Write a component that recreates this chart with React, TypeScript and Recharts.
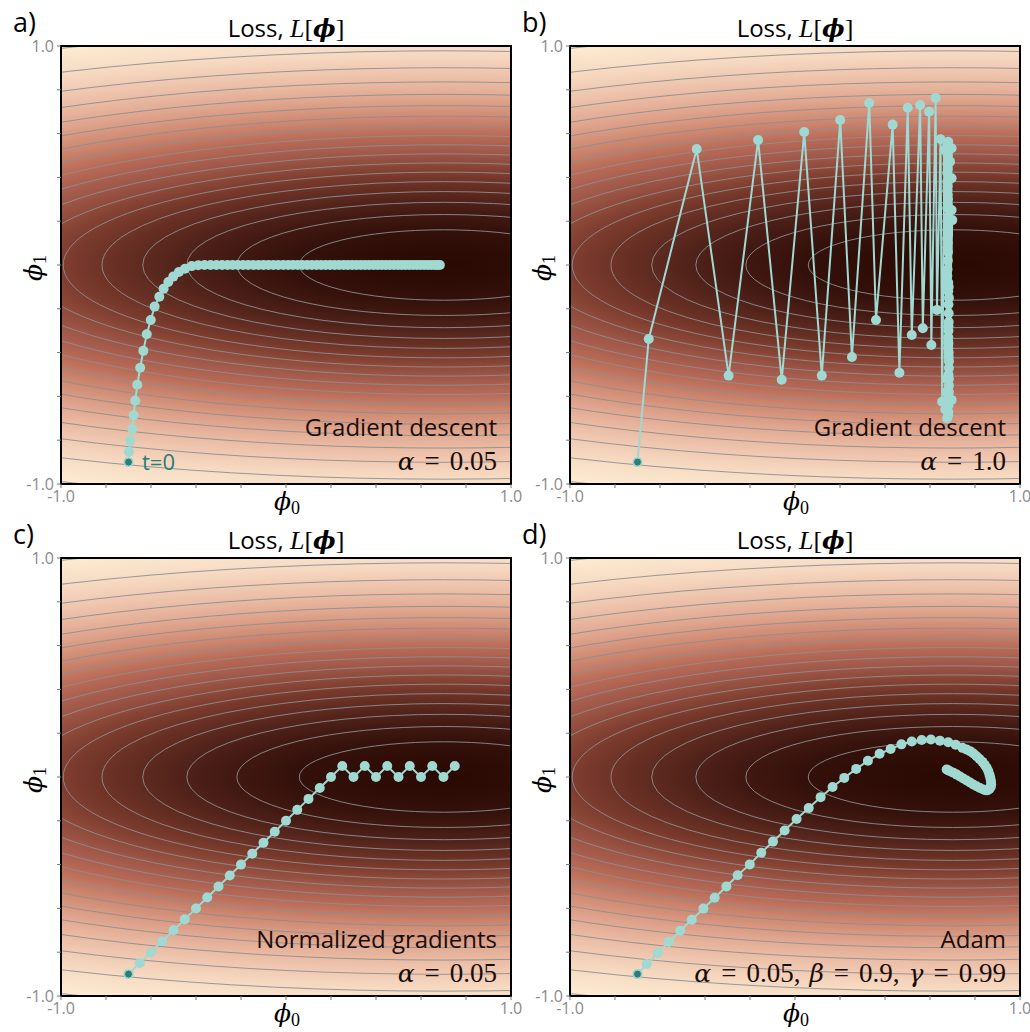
// Four optimisation paths over the same loss surface L[phi] (2x2 grid).
import React from "react";
import { ScatterChart, Scatter, XAxis, YAxis, ReferenceArea } from "recharts";

const TICKS = [-1, -0.8, -0.6, -0.4, -0.2, 0, 0.2, 0.4, 0.6, 0.8, 1];

// loss surface: elliptical basin, contour lines every 0.05
const CONTOUR_LEVELS = [0.05, 0.1, 0.15, 0.2, 0.25, 0.3, 0.35, 0.4, 0.45, 0.5, 0.55, 0.6, 0.65, 0.7, 0.75, 0.8, 0.85, 0.9];
const BASIN_PHI0 = 0.7;
const BASIN_PHI1 = 0;
const SPREAD_PHI0 = 2.83;
const SPREAD_PHI1 = 0.71;
const LOSS_OUTER = 0.93;
const CMAP_LOSS = [0, 0.05, 0.1, 0.15, 0.2, 0.25, 0.3, 0.35, 0.4, 0.45, 0.5, 0.55, 0.6, 0.65, 0.7, 0.75, 0.8, 0.85, 0.9, 0.93];
const CMAP_COLOR = [
  "#2a0902", "#33100a", "#401811", "#4e2119", "#5e2a20", "#6e3327", "#7e3d2f", "#8e4a3b", "#9d5647", "#ab6050",
  "#b86a56", "#c47a64", "#cf8a73", "#d99a83", "#e2ab94", "#eabba4", "#f1cbb4", "#f7dcc4", "#fcebd2", "#fff4dc",
];

// a) gradient descent, alpha = 0.05
const GD_PHI0 = [
  -0.700, -0.698, -0.692, -0.683, -0.677, -0.670, -0.661, -0.648, -0.634, -0.619,
  -0.601, -0.584, -0.563, -0.544, -0.523, -0.501, -0.476, -0.449, -0.419, -0.390,
  -0.362, -0.335, -0.309, -0.284, -0.260, -0.237, -0.214, -0.191, -0.168, -0.145,
  -0.122, -0.100, -0.078, -0.056, -0.034, -0.012, 0.010, 0.031, 0.052, 0.073,
  0.094, 0.115, 0.136, 0.156, 0.176, 0.196, 0.216, 0.236, 0.256, 0.275,
  0.294, 0.313, 0.332, 0.351, 0.370, 0.389, 0.407, 0.425, 0.443, 0.461,
  0.479, 0.497, 0.514, 0.531, 0.548, 0.565, 0.582, 0.598, 0.614, 0.630,
  0.645, 0.660, 0.672, 0.684,
];
const GD_PHI1 = [
  -0.900, -0.853, -0.802, -0.749, -0.686, -0.620, -0.547, -0.469, -0.392, -0.316,
  -0.251, -0.190, -0.145, -0.108, -0.078, -0.053, -0.032, -0.017, -0.005, -0.001,
  0, 0, 0, 0, 0, 0, 0, 0, 0, 0,
  0, 0, 0, 0, 0, 0, 0, 0, 0, 0,
  0, 0, 0, 0, 0, 0, 0, 0, 0, 0,
  0, 0, 0, 0, 0, 0, 0, 0, 0, 0,
  0, 0, 0, 0, 0, 0, 0, 0, 0, 0,
  0, 0, 0, 0,
];

// b) gradient descent, alpha = 1.0
const GD_FAST_PHI0 = [
  -0.700, -0.650, -0.437, -0.295, -0.164, -0.059, 0.041, 0.119, 0.201, 0.253,
  0.330, 0.360, 0.434, 0.464, 0.501, 0.519, 0.556, 0.568, 0.596, 0.606,
  0.625, 0.631, 0.647, 0.654, 0.664, 0.696, 0.681, 0.681, 0.696, 0.668,
  0.689, 0.672, 0.696, 0.674, 0.696, 0.676, 0.699,
  0.678, 0.682, 0.679, 0.684, 0.677, 0.681, 0.680, 0.683, 0.678, 0.682,
  0.679, 0.684, 0.677, 0.681, 0.680, 0.683, 0.678, 0.682, 0.679, 0.684,
  0.677, 0.681, 0.680, 0.683, 0.678, 0.682, 0.679, 0.684, 0.677, 0.681,
  0.680, 0.683, 0.678, 0.682, 0.679, 0.684, 0.677, 0.681, 0.680, 0.683,
  0.678, 0.682, 0.679, 0.684, 0.677, 0.681, 0.680, 0.683, 0.678, 0.682,
];
const GD_FAST_PHI1 = [
  -0.900, -0.338, 0.530, -0.505, 0.571, -0.524, 0.607, -0.505, 0.662, -0.420,
  0.740, -0.251, 0.641, -0.492, 0.718, -0.320, 0.731, -0.289, 0.700, -0.365,
  0.763, -0.205, 0.574, -0.624, 0.525, -0.616, 0.563, -0.685, 0.533, -0.660,
  0.472, -0.580, 0.396, -0.520, 0.251, -0.700, 0.205,
  0.55, -0.64, 0.44, -0.47, 0.34, -0.38, 0.30, -0.42, 0.16, -0.28,
  0.50, -0.55, 0.12, -0.33, 0.06, -0.22, 0.36, -0.60, 0.02, -0.15,
  0.42, -0.67, 0.22, -0.10, 0.46, -0.50, 0.28, -0.44, -0.05, -0.35,
  0.18, -0.26, 0.08, -0.18, 0.32, -0.58, 0.38, -0.12, 0.14, -0.40,
  -0.02, -0.30, 0.10, -0.52, 0.26, -0.08, 0.48, -0.62, 0.20, -0.36,
];

// c) normalized gradients, alpha = 0.05
const NORM_PHI0 = [
  -0.70, -0.65, -0.60, -0.55, -0.50, -0.45, -0.40, -0.35, -0.30, -0.25,
  -0.20, -0.15, -0.10, -0.05, 0.00, 0.05, 0.10, 0.15, 0.20, 0.25,
  0.30, 0.35, 0.40, 0.45, 0.50, 0.55, 0.60, 0.65, 0.70, 0.75,
];
const NORM_PHI1 = [
  -0.90, -0.85, -0.80, -0.75, -0.70, -0.65, -0.60, -0.55, -0.50, -0.45,
  -0.40, -0.35, -0.30, -0.25, -0.20, -0.15, -0.10, -0.05, 0.00, 0.05,
  0.00, 0.05, 0.00, 0.05, 0.00, 0.05, 0.00, 0.05, 0.00, 0.05,
];

// d) Adam, alpha = 0.05, beta = 0.9, gamma = 0.99
const ADAM_PHI0 = [
  -0.700, -0.659, -0.610, -0.560, -0.510, -0.459, -0.407, -0.357, -0.305, -0.255,
  -0.201, -0.150, -0.098, -0.046, 0.007, 0.061, 0.114, 0.167, 0.219, 0.272,
  0.324, 0.376, 0.425, 0.473, 0.519, 0.563, 0.604, 0.644, 0.681, 0.714,
  0.744, 0.762, 0.778, 0.793, 0.807, 0.820, 0.833, 0.843, 0.852, 0.859,
  0.864, 0.868, 0.871, 0.872, 0.870, 0.864, 0.856, 0.847, 0.837, 0.822,
  0.807, 0.792, 0.778, 0.763, 0.748, 0.733, 0.719, 0.704, 0.689, 0.680,
  0.674,
];
const ADAM_PHI1 = [
  -0.900, -0.854, -0.804, -0.753, -0.702, -0.652, -0.601, -0.551, -0.500, -0.449,
  -0.399, -0.346, -0.295, -0.244, -0.192, -0.142, -0.092, -0.046, -0.004, 0.037,
  0.074, 0.106, 0.128, 0.149, 0.162, 0.169, 0.171, 0.166, 0.159, 0.147,
  0.133, 0.126, 0.118, 0.107, 0.095, 0.082, 0.069, 0.056, 0.042, 0.027,
  0.011, -0.004, -0.019, -0.033, -0.046, -0.055, -0.060, -0.060, -0.057, -0.050,
  -0.042, -0.034, -0.025, -0.016, -0.007, 0.002, 0.011, 0.019, 0.026, 0.031,
  0.034,
];

const PATH_COLOR = "#a0d8d2";
const START_COLOR = "#2b7d76";
const TEXT_DARK = "#1c0c08";
const SANS = "'Open Sans', 'DejaVu Sans', sans-serif";
const SERIF = "'Liberation Serif', 'DejaVu Serif', serif";
const GREEK = "'DejaVu Serif', serif";

const radiusOf = (loss: number) => Math.sqrt(-Math.log(1 - loss));

// parameter line as [greek letter, value] pairs
const PANELS = [
  { id: "a", left: 0, top: 0, phi0: GD_PHI0, phi1: GD_PHI1, name: "Gradient descent", params: [["α", "0.05"]] },
  { id: "b", left: 509, top: 0, phi0: GD_FAST_PHI0, phi1: GD_FAST_PHI1, name: "Gradient descent", params: [["α", "1.0"]] },
  { id: "c", left: 0, top: 512, phi0: NORM_PHI0, phi1: NORM_PHI1, name: "Normalized gradients", params: [["α", "0.05"]] },
  { id: "d", left: 509, top: 512, phi0: ADAM_PHI0, phi1: ADAM_PHI1, name: "Adam", params: [["α", "0.05"], ["β", "0.9"], ["γ", "0.99"]] },
];

const tickFmt = (v: number) => (v === -1 ? "-1.0" : v === 1 ? "1.0" : "");
const tickStyle = { fill: "#8a8a8a", fontSize: 16, fontFamily: SANS };

function Shading(p: any) {
  const rOut = radiusOf(LOSS_OUTER);
  return (
    <g clipPath={p.clipPath}>
      <defs>
        <radialGradient id={p.gid} cx="50%" cy="50%" r="50%">
          {CMAP_LOSS.map((l, i) => (
            <stop key={i} offset={radiusOf(l) / rOut} stopColor={CMAP_COLOR[i]} />
          ))}
        </radialGradient>
      </defs>
      <rect x={p.x} y={p.y} width={p.width} height={p.height} fill={`url(#${p.gid})`} />
    </g>
  );
}

function Contour(p: any) {
  return (
    <g clipPath={p.clipPath}>
      <ellipse
        cx={p.x + p.width / 2}
        cy={p.y + p.height / 2}
        rx={Math.abs(p.width) / 2}
        ry={Math.abs(p.height) / 2}
        fill="none"
        stroke="#8e8e8e"
        strokeOpacity={0.9}
        strokeWidth={1}
      />
    </g>
  );
}

function Panel({ id, left, top, phi0, phi1 }: any) {
  const pts = phi0.map((x: number, i: number) => ({ x, y: phi1[i] }));
  const rOut = radiusOf(LOSS_OUTER);
  return (
    <div style={{ position: "absolute", left, top }}>
      <ScatterChart width={530} height={530} margin={{ top: 46, right: 19, bottom: 16, left: 21 }}>
        <XAxis
          type="number" dataKey="x" domain={[-1, 1]} ticks={TICKS} interval={0} allowDataOverflow
          height={30} tickFormatter={tickFmt} tickSize={4} tickMargin={3} tick={tickStyle}
          tickLine={{ stroke: "#777" }} axisLine={false}
        />
        <YAxis
          type="number" dataKey="y" domain={[-1, 1]} ticks={TICKS} interval={0} allowDataOverflow
          width={40} tickFormatter={tickFmt} tickSize={4} tickMargin={3} tick={tickStyle}
          tickLine={{ stroke: "#777" }} axisLine={false}
        />
        <ReferenceArea
          x1={BASIN_PHI0 - SPREAD_PHI0 * rOut} x2={BASIN_PHI0 + SPREAD_PHI0 * rOut}
          y1={BASIN_PHI1 - SPREAD_PHI1 * rOut} y2={BASIN_PHI1 + SPREAD_PHI1 * rOut}
          ifOverflow="hidden"
          shape={(p: any) => <Shading {...p} gid={`loss-${id}`} />}
        />
        {CONTOUR_LEVELS.map((lv) => {
          const r = radiusOf(lv);
          return (
            <ReferenceArea
              key={lv}
              x1={BASIN_PHI0 - SPREAD_PHI0 * r} x2={BASIN_PHI0 + SPREAD_PHI0 * r}
              y1={BASIN_PHI1 - SPREAD_PHI1 * r} y2={BASIN_PHI1 + SPREAD_PHI1 * r}
              ifOverflow="hidden"
              shape={(p: any) => <Contour {...p} />}
            />
          );
        })}
        <Scatter
          data={pts}
          isAnimationActive={false}
          fill={PATH_COLOR}
          line={{ stroke: PATH_COLOR, strokeWidth: 2 }}
          shape={(p: any) => <circle cx={p.cx} cy={p.cy} r={5} fill={PATH_COLOR} />}
        />
        <Scatter
          data={[pts[0]]}
          isAnimationActive={false}
          fill={START_COLOR}
          shape={(p: any) => <circle cx={p.cx} cy={p.cy} r={4} fill={START_COLOR} stroke={PATH_COLOR} strokeWidth={1} />}
        />
        <ReferenceArea x1={-1} x2={1} y1={-1} y2={1} fill="none" stroke="#000" strokeWidth={2} ifOverflow="visible" />
      </ScatterChart>
    </div>
  );
}

// TeX-like math line: italic greek, spaced "=", upright digits
function ParamText({ x, y, params }: any) {
  return (
    <text x={x} y={y} textAnchor="end" fontFamily={SERIF} fontSize={27} fill={TEXT_DARK}>
      {params.map(([g, v]: string[], i: number) => (
        <React.Fragment key={g}>
          <tspan fontFamily={GREEK} fontStyle="italic" fontSize={25} dx={i === 0 ? 0 : 9}>{g}</tspan>
          <tspan dx={10}>=</tspan>
          <tspan dx={10}>{v + (i < params.length - 1 ? "," : "")}</tspan>
        </React.Fragment>
      ))}
    </text>
  );
}

function Labels() {
  return (
    <svg width={1030} height={1032} style={{ position: "absolute", left: 0, top: 0, pointerEvents: "none" }}>
      {PANELS.map((pn) => {
        const ox = pn.left, oy = pn.top;
        return (
          <g key={pn.id}>
            <text x={ox + 13} y={oy + 32} fontFamily={SANS} fontSize={27} fill="#000">{pn.id})</text>
            <text x={ox + 286} y={oy + 37} textAnchor="middle" fontSize={24} fill="#000">
              <tspan fontFamily={SANS}>Loss, </tspan>
              <tspan fontFamily={SERIF} fontStyle="italic" fontSize={26}>L</tspan>
              <tspan fontFamily={SERIF} fontSize={26}>[</tspan>
              <tspan fontFamily={GREEK} fontStyle="italic" fontWeight="bold">ϕ</tspan>
              <tspan fontFamily={SERIF} fontSize={26}>]</tspan>
            </text>
            <text x={ox + 287} y={oy + 510} textAnchor="middle" fontFamily={GREEK} fontSize={25} fill="#000">
              <tspan fontStyle="italic">ϕ</tspan>
              <tspan fontFamily={SERIF} fontSize={18} dy={4}>0</tspan>
            </text>
            <text x={ox + 42} y={oy + 268} transform={`rotate(-90 ${ox + 42} ${oy + 268})`} textAnchor="middle" fontFamily={GREEK} fontSize={25} fill="#000">
              <tspan fontStyle="italic">ϕ</tspan>
              <tspan fontFamily={SERIF} fontSize={18} dy={4}>1</tspan>
            </text>
            <text x={ox + 497} y={oy + 436} textAnchor="end" fontFamily={SANS} fontSize={24} fill={TEXT_DARK}>{pn.name}</text>
            <ParamText x={ox + 497} y={oy + 470} params={pn.params} />
          </g>
        );
      })}
      <text x={142} y={470} fontFamily={SANS} fontSize={22} fill={START_COLOR}>t=0</text>
    </svg>
  );
}

export default function App() {
  return (
    <div style={{ position: "absolute", left: 0, top: 0, width: 1030, height: 1032, background: "#fff" }}>
      {PANELS.map((pn) => (
        <Panel key={pn.id} {...pn} />
      ))}
      <Labels />
    </div>
  );
}
